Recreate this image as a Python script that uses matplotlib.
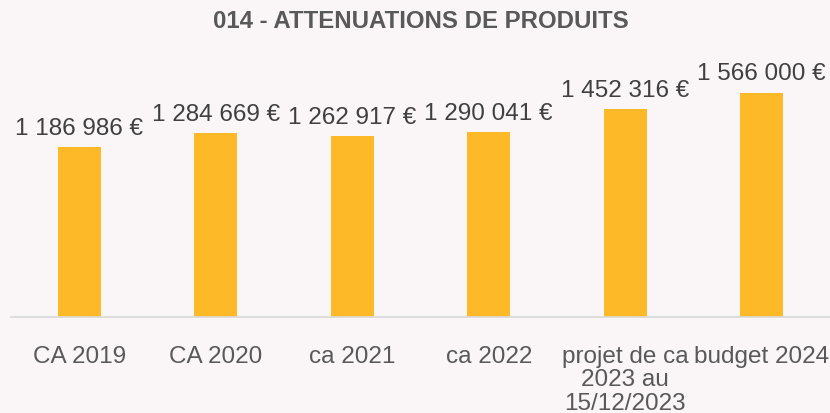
import matplotlib.pyplot as plt

plt.rcParams['font.family'] = ['Liberation Sans', 'DejaVu Sans']

# données
categories = ['CA 2019', 'CA 2020', 'ca 2021', 'ca 2022',
              'projet de ca\n2023 au\n15/12/2023', 'budget 2024']
valeurs = [1186986, 1284669, 1262917, 1290041, 1452316, 1566000]

fond = '#FAF5F7'
jaune = '#FDB927'

def fmt(v):
    return '{:,}'.format(v).replace(',', ' ') + ' €'

fig = plt.figure(figsize=(8.3, 4.14), dpi=100, facecolor=fond)
ax = fig.add_axes([11 / 830, (414 - 318) / 414, 819 / 830, (318 - 60) / 414])
ax.set_facecolor(fond)

x = range(len(categories))
bars = ax.bar(x, valeurs, width=0.315, color=jaune, zorder=2)

for b, v in zip(bars, valeurs):
    ax.annotate(fmt(v), (b.get_x() + b.get_width() / 2, v),
                xytext=(0, 6), textcoords='offset points',
                ha='center', va='bottom', fontsize=17.5, color='#404040')

ax.set_xlim(-0.5, len(categories) - 0.5)
ax.set_ylim(0, 1.8e6)
ax.set_xticks(list(x))
ax.set_xticklabels(categories, fontsize=17.5, color='#595959', linespacing=1.1)
ax.tick_params(axis='x', length=0, pad=20)
ax.set_yticks([])

for s in ['top', 'right', 'left']:
    ax.spines[s].set_visible(False)
ax.spines['bottom'].set_color('#D9D9D9')
ax.spines['bottom'].set_linewidth(1.2)

fig.text(421 / 830, 1 - 21 / 414, '014 - ATTENUATIONS DE PRODUITS',
         ha='center', va='center', fontsize=17.3, fontweight='bold', color='#595959')

fig.savefig('out.png', dpi=100, facecolor=fond)
